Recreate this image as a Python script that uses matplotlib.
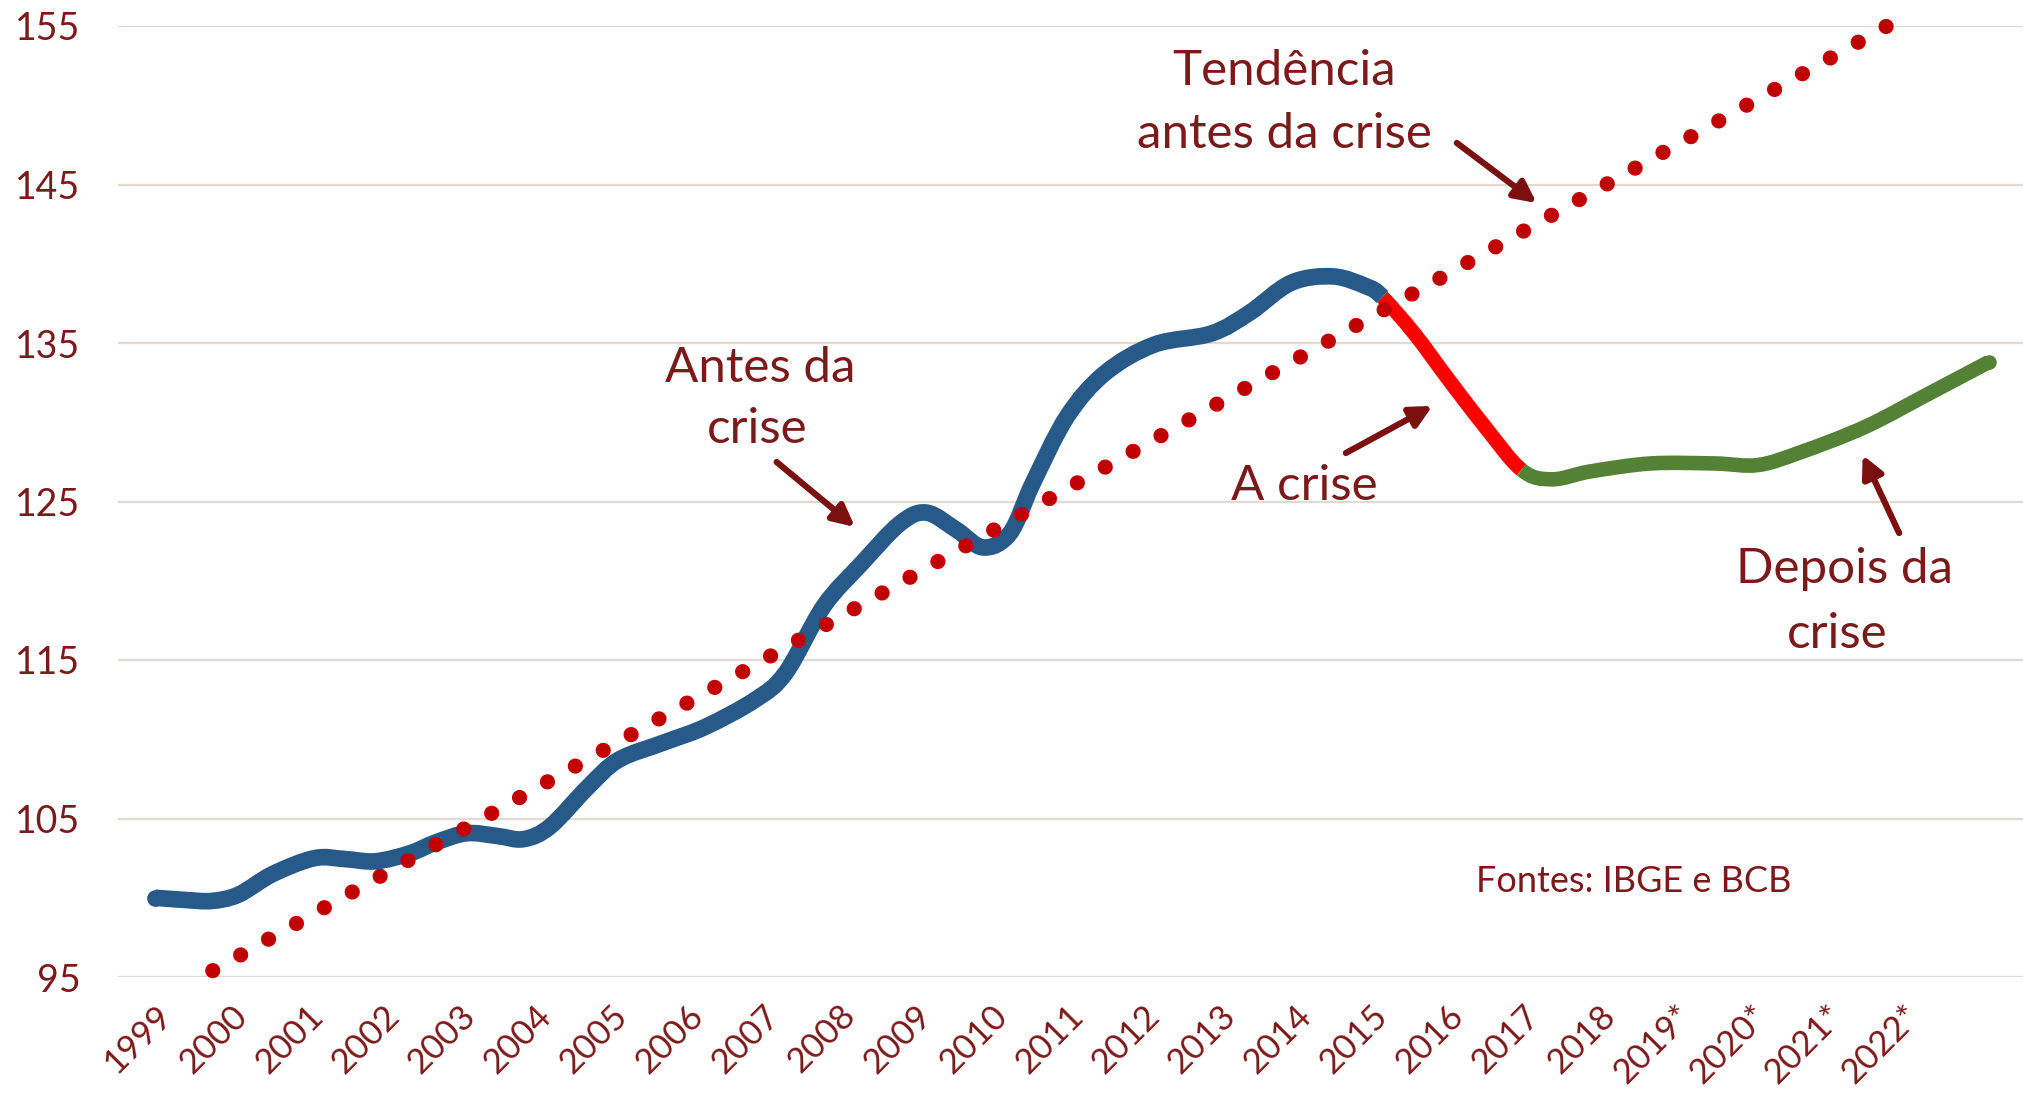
import matplotlib
matplotlib.use("Agg")
import matplotlib.pyplot as plt
from matplotlib.path import Path
from matplotlib.patches import PathPatch

plt.rcParams['font.family'] = ['Lato', 'DejaVu Sans']

# ---- data ----
tick_years = list(range(1999, 2023))
tick_labels = [str(y) for y in range(1999, 2019)] + ["2019*", "2020*", "2021*", "2022*"]

before_x = [1999.0, 1999.4, 1999.75, 2000.1, 2000.55, 2001.1, 2001.5, 2001.9, 2002.35,
            2002.7, 2003.1, 2003.5, 2003.85, 2004.2, 2004.7, 2005.1, 2005.7, 2006.25,
            2006.9, 2007.3, 2007.8, 2008.3, 2008.8, 2009.15, 2009.55, 2009.9, 2010.25,
            2010.55, 2011.0, 2011.5, 2012.15, 2012.9, 2013.4, 2013.95, 2014.5, 2014.95,
            2015.15]
before_y = [100.0, 99.86, 99.8, 100.2, 101.5, 102.5, 102.44, 102.3, 102.8,
            103.5, 104.07, 103.9, 103.7, 104.5, 107.0, 108.7, 109.8, 110.8,
            112.5, 114.2, 118.4, 121.1, 123.6, 124.3, 123.2, 122.1, 123.0,
            126.15, 130.35, 133.1, 134.9, 135.6, 136.9, 138.8, 139.2, 138.55,
            137.9]

crisis_x = [2015.15, 2015.57, 2016.02, 2016.47, 2016.98]
crisis_y = [137.9, 135.6, 132.7, 129.9, 127.0]

after_x = [2016.98, 2017.38, 2017.89, 2018.68, 2019.52, 2020.09, 2020.65, 2021.5, 2022.34, 2023.13]
after_y = [127.0, 126.4, 126.9, 127.4, 127.4, 127.3, 128.1, 129.7, 131.8, 133.8]

trend_x = [1999.76, 2021.79]
trend_y = [95.4, 155.0]

y_ticks = [95, 105, 115, 125, 135, 145, 155]

# ---- styling ----
TXT = '#7A1A1A'
BLUE = '#275A88'
RED = '#FF0000'
GREEN = '#538135'
DOTS = '#C00000'
GRID = '#E3D9D0'

fig = plt.figure(figsize=(20.23, 10.94), dpi=100)
ax = fig.add_axes([118 / 2023, 1 - 977 / 1094, 1 - 118 / 2023, (977 - 26) / 1094])
ax.set_xlim(1998.513, 2023.58)
ax.set_ylim(95, 155)

for s in ax.spines.values():
    s.set_visible(False)

for v in y_ticks:
    ax.axhline(v, color=GRID if v != 95 else '#D9D9D9', lw=1.6, zorder=0)

ax.set_yticks(y_ticks)
ax.set_yticklabels([str(v) for v in y_ticks], fontsize=27, color=TXT)
ax.set_xticks(tick_years)
ax.set_xticklabels(tick_labels, fontsize=25, color=TXT, rotation=45,
                   ha='right', va='top', rotation_mode='anchor')
ax.tick_params(axis='both', length=0)
ax.tick_params(axis='y', pad=27)
ax.tick_params(axis='x', pad=16)


# smoothed line through the read points (Excel-style "smoothed line")
all_x = before_x + crisis_x[1:] + after_x[1:]
all_y = before_y + crisis_y[1:] + after_y[1:]


def smooth_path(i0, i1):
    n = len(all_x)
    verts = [(all_x[i0], all_y[i0])]
    codes = [Path.MOVETO]
    for i in range(i0, i1):
        p0 = max(i - 1, 0)
        p3 = min(i + 2, n - 1)
        c1 = (all_x[i] + (all_x[i + 1] - all_x[p0]) / 6,
              all_y[i] + (all_y[i + 1] - all_y[p0]) / 6)
        c2 = (all_x[i + 1] - (all_x[p3] - all_x[i]) / 6,
              all_y[i + 1] - (all_y[p3] - all_y[i]) / 6)
        verts += [c1, c2, (all_x[i + 1], all_y[i + 1])]
        codes += [Path.CURVE4] * 3
    return Path(verts, codes)


nb = len(before_x)
nc = len(crisis_x)
segments = [(0, nb - 1, BLUE, 12),
            (nb - 1, nb + nc - 2, RED, 10.5),
            (nb + nc - 2, len(all_x) - 1, GREEN, 10.5)]
for i0, i1, col, lw in segments:
    ax.add_patch(PathPatch(smooth_path(i0, i1), fill=False, edgecolor=col, lw=lw,
                           capstyle='butt', joinstyle='round', zorder=3, clip_on=False))

# round caps at the outer ends only
ax.plot([before_x[0]], [before_y[0]], 'o', ms=12, color=BLUE, mec='none', zorder=3)
ax.plot([after_x[-1]], [after_y[-1]], 'o', ms=10.5, color=GREEN, mec='none', zorder=3,
        clip_on=False)

ax.plot(trend_x, trend_y, color=DOTS, lw=11, linestyle=(0, (0.001, 2.095)),
        dash_capstyle='round', zorder=4, clip_on=False)

# ---- annotations ----
tkw = dict(color=TXT, ha='center', va='baseline')
FS = 35.5
ax.text(2013.86, 151.28, 'Tendência', fontsize=FS, **tkw)
ax.text(2013.86, 147.30, 'antes da crise', fontsize=FS, **tkw)
ax.text(2006.97, 132.54, 'Antes da', fontsize=FS, **tkw)
ax.text(2006.92, 128.69, 'crise', fontsize=FS, **tkw)
ax.text(2014.12, 125.09, 'A crise', fontsize=FS, **tkw)
ax.text(2021.23, 119.86, 'Depois da', fontsize=FS, **tkw)
ax.text(2021.14, 115.76, 'crise', fontsize=FS, **tkw)
ax.text(2018.46, 100.36, 'Fontes: IBGE e BCB', fontsize=26, **tkw)

akw = dict(arrowstyle='-|>,head_length=0.5,head_width=0.25', color='#7B1010',
           lw=4.5, mutation_scale=26, shrinkA=0, shrinkB=0)
arrows = [((2016.13, 147.62), (2017.18, 143.83)),
          ((2007.18, 127.49), (2008.21, 123.39)),
          ((2014.67, 128.06), (2015.81, 131.03)),
          ((2021.95, 123.01), (2021.47, 127.93))]
for tail, head in arrows:
    ax.annotate('', xy=head, xytext=tail, arrowprops=akw, zorder=5)

fig.savefig('out.png', dpi=100)
